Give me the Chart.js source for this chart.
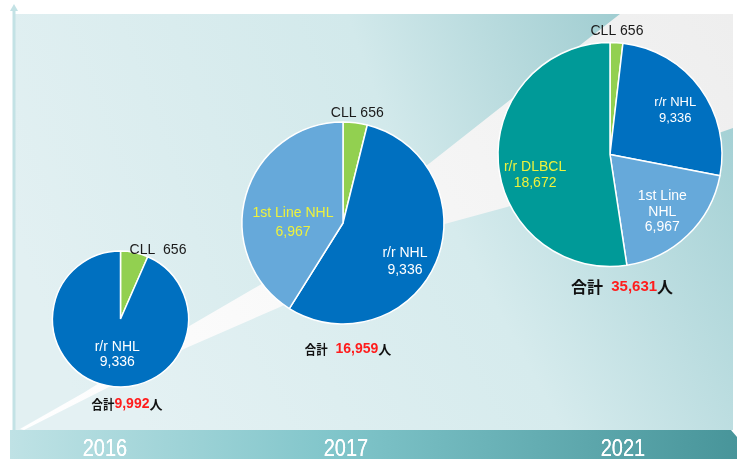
<!DOCTYPE html>
<html>
<head>
<meta charset="utf-8">
<script src="https://cdn.jsdelivr.net/npm/chart.js@4/dist/chart.umd.min.js"></script>
<style>
html,body{margin:0;padding:0;background:#ffffff;}
#wrap{position:relative;width:737px;height:459px;overflow:hidden;}
#bg{position:absolute;left:0;top:0;}
canvas.pie{position:absolute;left:0;top:0;}
.year{position:absolute;top:437px;width:100px;text-align:center;font:23px "Liberation Sans",Arial,sans-serif;line-height:23px;color:#ffffff;transform:scaleX(0.87);text-shadow:0 0 0.4px #ffffff;}
</style>
</head>
<body>
<div id="wrap">
<svg id="bg" width="737" height="459" xmlns="http://www.w3.org/2000/svg">
  <defs>
    <linearGradient id="gBase" gradientUnits="userSpaceOnUse" x1="150" y1="440" x2="737" y2="120">
      <stop offset="0" stop-color="#e4f1f3"/>
      <stop offset="0.55" stop-color="#d6ebed"/>
      <stop offset="1" stop-color="#a3d0d4"/>
    </linearGradient>
    <linearGradient id="gTop" gradientUnits="userSpaceOnUse" x1="14" y1="230" x2="620" y2="14">
      <stop offset="0" stop-color="#e2f0f2"/>
      <stop offset="0.6" stop-color="#d2e9eb"/>
      <stop offset="1" stop-color="#a0cdd1"/>
    </linearGradient>
    <linearGradient id="gBand" gradientUnits="userSpaceOnUse" x1="20" y1="430" x2="733" y2="14">
      <stop offset="0" stop-color="#ffffff"/>
      <stop offset="1" stop-color="#eeeeee"/>
    </linearGradient>
    <linearGradient id="gBar" gradientUnits="userSpaceOnUse" x1="10" y1="0" x2="737" y2="0">
      <stop offset="0" stop-color="#bfe2e5"/>
      <stop offset="0.45" stop-color="#80c5ca"/>
      <stop offset="1" stop-color="#48959a"/>
    </linearGradient>
  </defs>
  <rect x="15" y="14" width="718" height="416" fill="url(#gBase)"/>
  <polygon points="15,14 620,14 510,100 430,163 260,285 186,328 85,392 20,428 15,430" fill="url(#gTop)"/>
  <polygon points="20,429 85,392 186,328 260,285 430,163 510,100 620,14 733,14 733,128 507,207 430,228 280,307 186,348 24,430" fill="url(#gBand)"/>
  <polygon points="10,430 731,430 737,437 737,459 10,459" fill="url(#gBar)"/>
  <line x1="14" y1="8" x2="14" y2="430" stroke="#c3e2e5" stroke-width="3"/>
  <polygon points="10,11 14,4 18,11" fill="#c3e2e5"/>
</svg>
<canvas class="pie" id="c2016" width="737" height="459"></canvas>
<canvas class="pie" id="c2017" width="737" height="459"></canvas>
<canvas class="pie" id="c2021" width="737" height="459"></canvas>
<div class="year" style="left:54.5px">2016</div>
<div class="year" style="left:296px">2017</div>
<div class="year" style="left:573px">2021</div>
</div>
<script>
// ---- data ----
const categories = ['CLL', 'r/r NHL', '1st Line NHL', 'r/r DLBCL'];
const years = ['2016', '2017', '2021'];
const values2016 = [656, 9336];
const values2017 = [656, 9336, 6967];
const values2021 = [656, 9336, 6967, 18672];
const totals = [9992, 16959, 35631];
const sliceColors = ['#92d050', '#0070c0', '#66a9da', '#009a98'];

const W = 737, H = 459;
const LATIN = '"Liberation Sans", Arial, sans-serif';
const CJK = '"Noto Sans CJK JP", "Noto Sans CJK SC", sans-serif';
const fmt = v => v.toLocaleString('en-US');

const labelPlugin = {
  id: 'sliceLabels',
  afterDatasetsDraw(chart, args, opts) {
    const ctx = chart.ctx;
    const meta = chart.getDatasetMeta(0);
    const ds = chart.data.datasets[0];
    ctx.save();
    ctx.textAlign = 'center';
    ctx.textBaseline = 'middle';
    meta.data.forEach((arc, i) => {
      const L = opts.items[i];
      if (!L) return;
      const p = arc.getProps(['x', 'y', 'startAngle', 'endAngle', 'outerRadius'], true);
      const mid = (p.startAngle + p.endAngle) / 2;
      const x = p.x + Math.cos(mid) * p.outerRadius * L.frac + L.dx;
      const y = p.y + Math.sin(mid) * p.outerRadius * L.frac + L.dy;
      const name = chart.data.labels[i];
      const val = fmt(ds.data[i]);
      let lines;
      if (L.mode === 'inline') lines = [name + L.sep + val];
      else if (L.mode === 'three') {
        const k = name.lastIndexOf(' ');
        lines = [name.slice(0, k), name.slice(k + 1), val];
      } else lines = [name, val];
      ctx.fillStyle = L.color;
      ctx.font = `${L.size}px ${LATIN}`;
      const lh = L.lh || 16;
      lines.forEach((t, k) => ctx.fillText(t, x, y + (k - (lines.length - 1) / 2) * lh));
    });
    // total label under the pie
    const T = opts.total;
    const p0 = meta.data[0].getProps(['x', 'y', 'outerRadius'], true);
    const parts = [
      { t: '合計', font: `bold ${T.cjk}px ${CJK}`, color: '#111111', sx: T.sx },
      { t: T.gap, font: `bold ${T.num}px ${LATIN}`, color: '#111111', sx: 1 },
      { t: fmt(T.value), font: `bold ${T.num}px ${LATIN}`, color: '#ff1c1c', sx: 1 },
      { t: '人', font: `bold ${T.cjk}px ${CJK}`, color: '#111111', sx: 1 }
    ];
    ctx.textAlign = 'left';
    let total = 0;
    parts.forEach(pt => { ctx.font = pt.font; pt.w = ctx.measureText(pt.t).width * pt.sx; total += pt.w; });
    let cx = p0.x + T.dx - total / 2;
    const cy = p0.y + p0.outerRadius + T.dy;
    parts.forEach(pt => {
      ctx.font = pt.font;
      ctx.fillStyle = pt.color;
      ctx.save();
      ctx.translate(cx, cy);
      ctx.scale(pt.sx, 1);
      ctx.fillText(pt.t, 0, 0);
      ctx.restore();
      cx += pt.w;
    });
    ctx.restore();
  }
};

function makePie(id, values, cx, cy, r, items, total) {
  const bw = 1.5;
  const half = r + bw / 2;
  const n = values.length;
  return new Chart(document.getElementById(id), {
    type: 'pie',
    data: {
      labels: categories.slice(0, n),
      datasets: [{
        data: values,
        backgroundColor: sliceColors.slice(0, n),
        borderColor: '#ffffff',
        borderWidth: bw
      }]
    },
    options: {
      responsive: false,
      animation: false,
      events: [],
      layout: { padding: { left: cx - half, top: cy - half, right: W - (cx + half), bottom: H - (cy + half) } },
      plugins: {
        legend: { display: false },
        tooltip: { enabled: false },
        sliceLabels: { items, total }
      }
    },
    plugins: [labelPlugin]
  });
}

makePie('c2016', values2016, 120.5, 319, 68, [
  { mode: 'inline', sep: '  ', frac: 1, dx: 23.6, dy: -2.4, color: '#1a1a1a', size: 14 },
  { mode: 'two', frac: 0.52, dx: 4, dy: 1, color: '#ffffff', size: 14, lh: 15 }
], { value: totals[0], dx: 6.5, dy: 17, cjk: 13, num: 14, sx: 0.88, gap: '' });

makePie('c2017', values2017, 343, 223, 101, [
  { mode: 'inline', sep: ' ', frac: 1, dx: 2, dy: -10, color: '#1a1a1a', size: 14 },
  { mode: 'two', frac: 0.72, dx: -5, dy: 10, color: '#ffffff', size: 14, lh: 17 },
  { mode: 'two', frac: 0.5, dx: -1.5, dy: 13.4, color: '#eef23c', size: 14, lh: 19 }
], { value: totals[1], dx: 5, dy: 25, cjk: 13, num: 14, sx: 0.88, gap: '  ' });

makePie('c2021', values2021, 610, 154.5, 112, [
  { mode: 'inline', sep: ' ', frac: 1, dx: 0.5, dy: -12, color: '#1a1a1a', size: 14 },
  { mode: 'two', frac: 0.70, dx: 2, dy: 2, color: '#ffffff', size: 13, lh: 16 },
  { mode: 'three', frac: 0.70, dx: -2, dy: 1, color: '#ffffff', size: 14, lh: 15.5 },
  { mode: 'two', frac: 0.68, dx: 1, dy: 15, color: '#eef23c', size: 14, lh: 16 }
], { value: totals[2], dx: 12, dy: 20.5, cjk: 16, num: 15, sx: 1, gap: '  ' });
</script>
</body>
</html>
